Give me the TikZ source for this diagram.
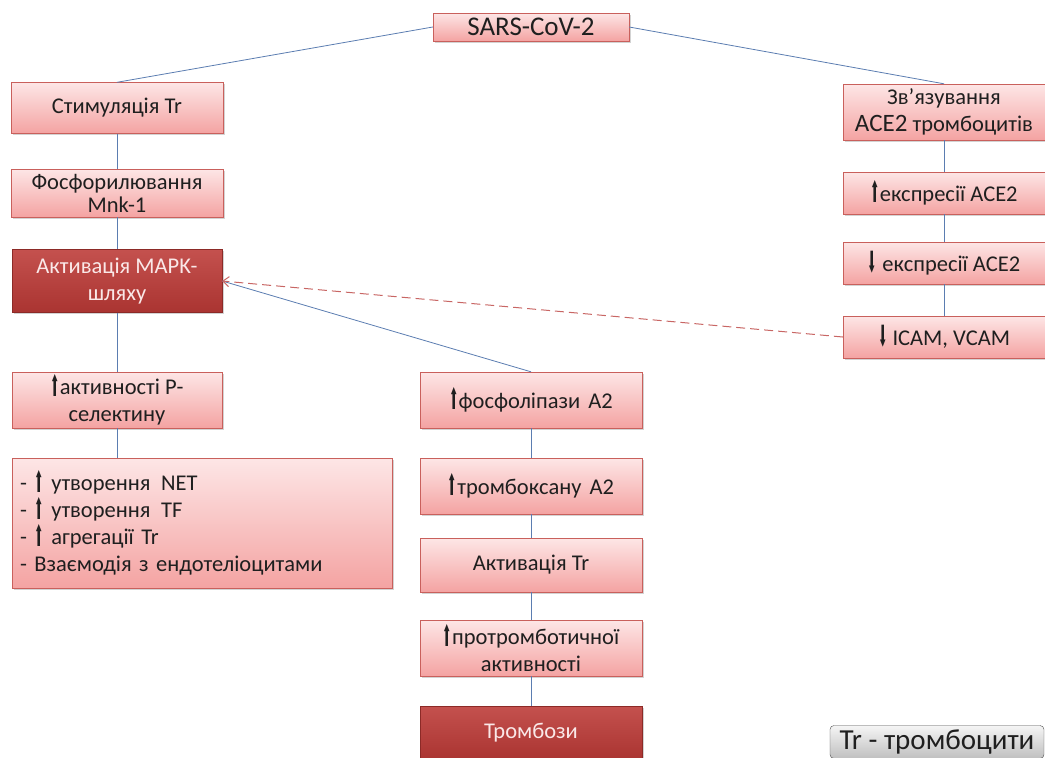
\documentclass[tikz,border=0pt]{standalone}
\usepackage{fontspec}
\usepackage{graphicx}
\setmainfont{Carlito}
\newfontfamily\arrowfont{DejaVu Sans}
\usetikzlibrary{arrows.meta,shadows}
\definecolor{boxtop}{HTML}{FDE6E6}
\definecolor{boxbot}{HTML}{F4A3A2}
\definecolor{boxline}{HTML}{C9605C}
\definecolor{darktop}{HTML}{C4514E}
\definecolor{darkbot}{HTML}{AA3431}
\definecolor{darkline}{HTML}{8C2A27}
\definecolor{linkblue}{HTML}{5B7DB1}
\definecolor{dashred}{HTML}{C86664}
\newcommand\uparr{{\arrowfont\raisebox{-1.5pt}{\scalebox{0.5}[1.3]{⬆}}}}
\newcommand\dnarr{{\arrowfont\raisebox{-1.5pt}{\scalebox{0.5}[1.3]{⬇}}}}
\begin{document}
\begin{tikzpicture}[x=1pt,y=-1pt,
  box/.style={draw=boxline,top color=boxtop,bottom color=boxbot,
    drop shadow={shadow xshift=1.5pt,shadow yshift=-1.5pt,opacity=0.35},
    align=center,font=\fontsize{22.5}{27}\selectfont,text=black!88,inner sep=2pt},
  darkbox/.style={box,draw=darkline,top color=darktop,bottom color=darkbot,text={rgb,255:red,250;green,232;blue,232}},
  link/.style={draw=linkblue,line width=0.8pt}]
\useasboundingbox (0,0) rectangle (1045,758);
% left column
\node[box,minimum width=196pt,minimum height=28pt,font=\fontsize{27}{28}\selectfont] (sars) at (531,27) {SARS-CoV-2};
\node[box,minimum width=212pt,minimum height=51pt] (stim) at (117,108) {Стимуляція Tr};
\node[box,minimum width=212pt,minimum height=48pt,font=\fontsize{22.5}{23}\selectfont] (mnk) at (117,193) {Фосфорилювання\\Mnk-1};
\node[darkbox,minimum width=210pt,minimum height=63pt] (mapk) at (117,281) {Активація MAPK-\\шляху};
\node[box,minimum width=210pt,minimum height=56pt] (psel) at (117,400) {\uparr активності Р-\\селектину};
\node[box,minimum width=380pt,minimum height=130pt,text width=364pt,align=left,inner xsep=8pt] (effects) at (202,523)
  {- \uparr\ утворення\hspace{3pt} NET\\- \uparr\ утворення\hspace{3pt} TF\\- \uparr\ агрегації Tr\\- Взаємодія з ендотеліоцитами};
% middle column
\node[box,minimum width=222pt,minimum height=56pt] (pla) at (531,400) {\uparr фосфоліпази\hspace{3pt} A2};
\node[box,minimum width=222pt,minimum height=56pt] (txa) at (531,486) {\uparr тромбоксану\hspace{3pt} A2};
\node[box,minimum width=222pt,minimum height=54pt] (acttr) at (531,565) {Активація Tr};
\node[box,minimum width=222pt,minimum height=56pt] (prothr) at (531,648) {\uparr протромботичної\\активності};
\node[darkbox,minimum width=222pt,minimum height=54pt] (thromb) at (531,733) {Тромбози};
% right column
\node[box,minimum width=202pt,minimum height=56pt] (bind) at (944,112) {Зв’язування\\{\fontsize{25}{27}\selectfont ACE2} тромбоцитів};
\node[box,minimum width=202pt,minimum height=42pt] (aceup) at (944,193) {\uparr експресії ACE2};
\node[box,minimum width=202pt,minimum height=42pt] (acedn) at (944,263) {\dnarr\ експресії ACE2};
\node[box,minimum width=202pt,minimum height=42pt] (icam) at (944,337) {\dnarr\ ICAM, VCAM};
\node[draw=black!70,rounded corners=4pt,top color=black!4,bottom color=black!25,minimum width=214pt,minimum height=33pt,
  font=\fontsize{29}{30}\selectfont,text=black!88,inner sep=1pt] (legend) at (937,742) {Tr - тромбоцити};
% connectors
\draw[link] (sars.west) -- (stim.north);
\draw[link] (sars.east) -- (bind.north);
\foreach \a/\b in {stim/mnk,mnk/mapk,mapk/psel,pla/txa,txa/acttr,acttr/prothr,prothr/thromb,bind/aceup,aceup/acedn,acedn/icam}
  \draw[link] (\a.south) -- (\b.north);
\draw[link] (psel.south) -- (psel.south |- effects.north);
\draw[link] (pla.north) -- (mapk.east);
\draw[draw=dashred,line width=1pt,dash pattern=on 9pt off 5pt,-{Straight Barb[length=6pt,width=10pt]}] (icam.west) -- (mapk.east);
\end{tikzpicture}
\end{document}
